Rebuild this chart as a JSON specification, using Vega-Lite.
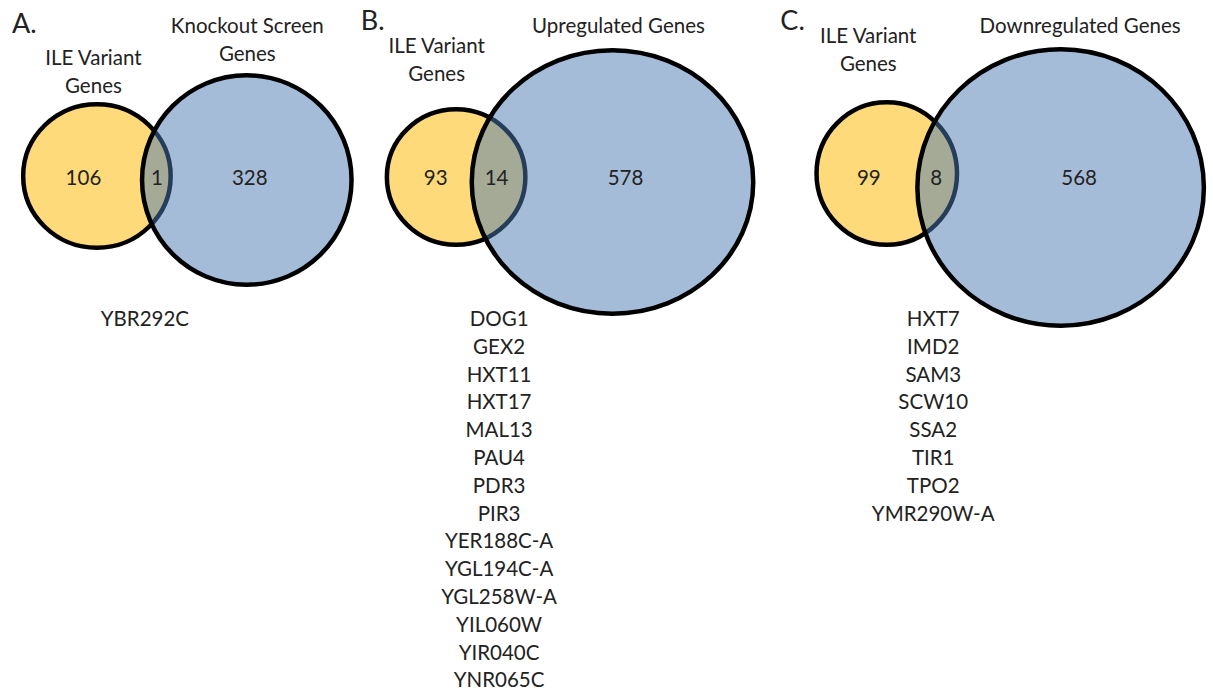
{
  "$schema": "https://vega.github.io/schema/vega-lite/v6.json",
  "width": 1213,
  "height": 692,
  "autosize": {"type": "fit", "contains": "padding"},
  "padding": 0,
  "background": "white",
  "config": {
    "view": {"stroke": null},
    "text": {"font": "Lato", "fontSize": 20.5, "fill": "#222222"}
  },
  "datasets": {
    "circles": [
      {"panel": "A", "circle": "A-ILE", "set": "ILE Variant Genes", "role": "ILE", "cx": 97, "cy": 176, "r": 73.75},
      {"panel": "A", "circle": "A-KO", "set": "Knockout Screen Genes", "role": "other", "cx": 247, "cy": 180, "r": 104.75},
      {"panel": "B", "circle": "B-ILE", "set": "ILE Variant Genes", "role": "ILE", "cx": 456.5, "cy": 177, "r": 69.25},
      {"panel": "B", "circle": "B-UP", "set": "Upregulated Genes", "role": "other", "cx": 613, "cy": 182, "r": 140.75},
      {"panel": "C", "circle": "C-ILE", "set": "ILE Variant Genes", "role": "ILE", "cx": 887.5, "cy": 173.5, "r": 70.25},
      {"panel": "C", "circle": "C-DOWN", "set": "Downregulated Genes", "role": "other", "cx": 1061.5, "cy": 187.5, "r": 143.25}
    ],
    "regions": [
      {"panel": "A", "region": "ILE only", "count": 106, "x": 83.5, "y": 185},
      {"panel": "A", "region": "both", "count": 1, "x": 157, "y": 185},
      {"panel": "A", "region": "other only", "count": 328, "x": 250, "y": 185},
      {"panel": "B", "region": "ILE only", "count": 93, "x": 436, "y": 185},
      {"panel": "B", "region": "both", "count": 14, "x": 497, "y": 185},
      {"panel": "B", "region": "other only", "count": 578, "x": 626, "y": 185},
      {"panel": "C", "region": "ILE only", "count": 99, "x": 869.5, "y": 185},
      {"panel": "C", "region": "both", "count": 8, "x": 937, "y": 185},
      {"panel": "C", "region": "other only", "count": 568, "x": 1080, "y": 185}
    ],
    "titles": [
      {"panel": "A", "title": "ILE Variant\nGenes", "x": 93.5, "y": 65},
      {"panel": "A", "title": "Knockout Screen\nGenes", "x": 247.5, "y": 33},
      {"panel": "B", "title": "ILE Variant\nGenes", "x": 437, "y": 53},
      {"panel": "B", "title": "Upregulated Genes", "x": 619, "y": 33},
      {"panel": "C", "title": "ILE Variant\nGenes", "x": 869, "y": 43},
      {"panel": "C", "title": "Downregulated Genes", "x": 1081, "y": 33}
    ],
    "panels": [
      {"panel": "A", "label": "A.", "x": 12, "y": 33, "listX": 145},
      {"panel": "B", "label": "B.", "x": 361, "y": 30, "listX": 499.5},
      {"panel": "C", "label": "C.", "x": 781, "y": 30, "listX": 934}
    ],
    "genes": [
      {"panel": "A", "gene": "YBR292C"},
      {"panel": "B", "gene": "DOG1"},
      {"panel": "B", "gene": "GEX2"},
      {"panel": "B", "gene": "HXT11"},
      {"panel": "B", "gene": "HXT17"},
      {"panel": "B", "gene": "MAL13"},
      {"panel": "B", "gene": "PAU4"},
      {"panel": "B", "gene": "PDR3"},
      {"panel": "B", "gene": "PIR3"},
      {"panel": "B", "gene": "YER188C-A"},
      {"panel": "B", "gene": "YGL194C-A"},
      {"panel": "B", "gene": "YGL258W-A"},
      {"panel": "B", "gene": "YIL060W"},
      {"panel": "B", "gene": "YIR040C"},
      {"panel": "B", "gene": "YNR065C"},
      {"panel": "C", "gene": "HXT7"},
      {"panel": "C", "gene": "IMD2"},
      {"panel": "C", "gene": "SAM3"},
      {"panel": "C", "gene": "SCW10"},
      {"panel": "C", "gene": "SSA2"},
      {"panel": "C", "gene": "TIR1"},
      {"panel": "C", "gene": "TPO2"},
      {"panel": "C", "gene": "YMR290W-A"}
    ]
  },
  "layer": [
    {
      "data": {"name": "circles"},
      "transform": [{"filter": "datum.role === 'ILE'"}],
      "mark": {"type": "point", "filled": true, "opacity": 1, "fill": "#FFDA7A", "stroke": "black", "strokeWidth": 4.5},
      "encoding": {
        "x": {"field": "cx", "type": "quantitative", "scale": {"domain": [0, 1213], "nice": false, "zero": false}, "axis": null},
        "y": {"field": "cy", "type": "quantitative", "scale": {"domain": [0, 692], "reverse": true, "nice": false, "zero": false}, "axis": null},
        "size": {"field": "r", "type": "quantitative", "scale": {"type": "pow", "exponent": 2, "domain": [0, 200], "range": [0, 160000], "nice": false}, "legend": null},
        "shape": {
          "field": "circle", "type": "nominal", "legend": null,
          "scale": {
            "domain": ["A-ILE", "A-KO", "B-ILE", "B-UP", "C-ILE", "C-DOWN"],
            "range": [
              "M-1,0A1,0.973,0,1,0,1,0A1,0.973,0,1,0,-1,0Z",
              "M-1,0A1,1,0,1,0,1,0A1,1,0,1,0,-1,0Z",
              "M-1,0A1,0.978,0,1,0,1,0A1,0.978,0,1,0,-1,0Z",
              "M-1,0A1,0.936,0,1,0,1,0A1,0.936,0,1,0,-1,0Z",
              "M-1,0A1,1.014,0,1,0,1,0A1,1.014,0,1,0,-1,0Z",
              "M-1,0A1,0.965,0,1,0,1,0A1,0.965,0,1,0,-1,0Z"
            ]
          }
        }
      }
    },
    {
      "data": {"name": "circles"},
      "transform": [{"filter": "datum.role === 'other'"}],
      "mark": {"type": "point", "filled": true, "opacity": 1, "fill": "#4C7AB4", "fillOpacity": 0.5, "stroke": "black", "strokeOpacity": 1, "strokeWidth": 4.5},
      "encoding": {
        "x": {"field": "cx", "type": "quantitative", "axis": null},
        "y": {"field": "cy", "type": "quantitative", "scale": {"domain": [0, 692], "reverse": true, "nice": false, "zero": false}, "axis": null},
        "size": {"field": "r", "type": "quantitative", "legend": null},
        "shape": {"field": "circle", "type": "nominal", "legend": null}
      }
    },
    {
      "data": {"name": "regions"},
      "mark": {"type": "text", "align": "center", "baseline": "alphabetic"},
      "encoding": {
        "x": {"field": "x", "type": "quantitative", "axis": null},
        "y": {"field": "y", "type": "quantitative", "scale": {"domain": [0, 692], "reverse": true, "nice": false, "zero": false}, "axis": null},
        "text": {"field": "count", "type": "quantitative"}
      }
    },
    {
      "data": {"name": "titles"},
      "mark": {"type": "text", "align": "center", "baseline": "alphabetic", "lineBreak": "\n", "lineHeight": 28},
      "encoding": {
        "x": {"field": "x", "type": "quantitative", "axis": null},
        "y": {"field": "y", "type": "quantitative", "scale": {"domain": [0, 692], "reverse": true, "nice": false, "zero": false}, "axis": null},
        "text": {"field": "title", "type": "nominal"}
      }
    },
    {
      "data": {"name": "panels"},
      "mark": {"type": "text", "align": "left", "baseline": "alphabetic", "fontSize": 27},
      "encoding": {
        "x": {"field": "x", "type": "quantitative", "axis": null},
        "y": {"field": "y", "type": "quantitative", "scale": {"domain": [0, 692], "reverse": true, "nice": false, "zero": false}, "axis": null},
        "text": {"field": "label", "type": "nominal"}
      }
    },
    {
      "data": {"name": "genes"},
      "transform": [
        {"window": [{"op": "row_number", "as": "rank"}], "groupby": ["panel"], "sort": [{"field": "gene", "order": "ascending"}]},
        {"lookup": "panel", "from": {"data": {"name": "panels"}, "key": "panel", "fields": ["listX"]}}
      ],
      "mark": {"type": "text", "align": "center", "baseline": "alphabetic"},
      "encoding": {
        "x": {"field": "listX", "type": "quantitative", "axis": null},
        "y": {"field": "rank", "type": "quantitative", "scale": {"domain": [-10.727, 14.165], "reverse": true, "nice": false, "zero": false}, "axis": null},
        "text": {"field": "gene", "type": "nominal"}
      }
    }
  ],
  "resolve": {"scale": {"y": "independent"}}
}
